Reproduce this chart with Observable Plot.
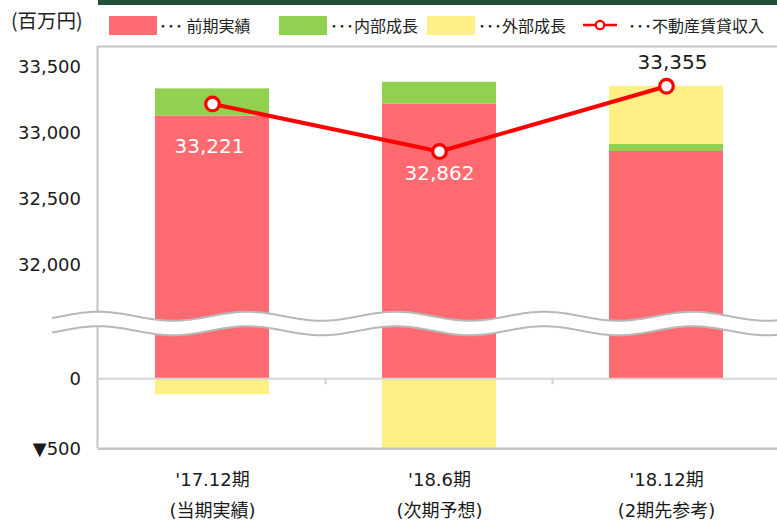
<!DOCTYPE html>
<html>
<head>
<meta charset="utf-8">
<script src="https://cdn.jsdelivr.net/npm/d3@7"></script>
<script src="https://cdn.jsdelivr.net/npm/@observablehq/plot@0.6"></script>
<style>
  body { margin: 0; background: #fff; }
  #wrap { width: 777px; position: relative; font-family: "Noto Sans CJK JP", "DejaVu Sans", sans-serif; color: #222; }
  #head { height: 40px; position: relative; }
  #topbar { position: absolute; left: 98px; top: 0; width: 679px; height: 5px; background: #22503a; }
  #unit { position: absolute; left: 11px; top: 7px; font-size: 19.5px; line-height: 26px; color: #222; }
  .sw { position: absolute; top: 16px; width: 48px; height: 19px; }
  .lt { position: absolute; top: 15px; font-size: 16px; line-height: 20px; white-space: nowrap; color: #222; }
  #lineSym { position: absolute; left: 583px; top: 19px; }
</style>
</head>
<body>
<div id="wrap">
  <div id="head">
    <div id="topbar"></div>
    <div id="unit">(百万円)</div>
    <div id="legend"></div>
  </div>
  <div id="chart"></div>
</div>
<script>
// ---- data ----
const categories = ["'17.12期", "'18.6期", "'18.12期"];
const subLabels = ["(当期実績)", "(次期予想)", "(2期先参考)"];
const seriesNames = ["前期実績", "内部成長", "外部成長"];
const prevActual = [33130, 33221, 32862];
const internalGrowth = [205, 164, 53];
const externalGrowth = [-114, -523, 440];
const lineName = "不動産賃貸収入";
const rentalIncome = [33221, 32862, 33355];
const yTicks = [33500, 33000, 32500, 32000, 0, -500];
const seriesColors = ["#ff6b70", "#92d050", "#fff086"];

// ---- legend (HTML) ----
const legend = document.getElementById("legend");
const legendItems = [
  {sw: seriesColors[0], swLeft: 109, text: "･･･ " + seriesNames[0], tLeft: 159},
  {sw: seriesColors[1], swLeft: 279, text: "･･･" + seriesNames[1], tLeft: 330},
  {sw: seriesColors[2], swLeft: 427, text: "･･･" + seriesNames[2], tLeft: 478},
  {sw: null, text: "･･･" + lineName, tLeft: 628}
];
for (const it of legendItems) {
  if (it.sw) {
    const s = document.createElement("div");
    s.className = "sw"; s.style.left = it.swLeft + "px"; s.style.background = it.sw;
    legend.appendChild(s);
  }
  const t = document.createElement("div");
  t.className = "lt"; t.style.left = it.tLeft + "px"; t.textContent = it.text;
  legend.appendChild(t);
}
legend.insertAdjacentHTML("beforeend",
  '<svg id="lineSym" width="34" height="12"><line x1="0" y1="6" x2="34" y2="6" stroke="#ff0000" stroke-width="2.5"/><circle cx="17" cy="6" r="4.2" fill="#fff" stroke="#ff0000" stroke-width="2.2"/></svg>');

// ---- tables ----
const rows = [];
categories.forEach((c, i) => {
  rows.push({cat: c, series: seriesNames[0], value: prevActual[i]});
  rows.push({cat: c, series: seriesNames[1], value: internalGrowth[i]});
  rows.push({cat: c, series: seriesNames[2], value: externalGrowth[i]});
});
const income = categories.map((c, i) => ({cat: c, value: rentalIncome[i]}));

const fmt = d3.format(",");
const W = 777, H = 480;
const left = 97.5;

const chart = Plot.plot({
  width: W, height: H,
  marginLeft: left, marginRight: 0, marginTop: 6, marginBottom: 71.7,
  style: {fontFamily: "'DejaVu Sans', 'Noto Sans CJK JP', sans-serif", fontSize: "18px", color: "#1a1a1a", background: "#fff"},
  x: {domain: categories, range: [left, 780.5], paddingInner: 0.5, paddingOuter: 0.25},
  y: {type: "linear", domain: [-500, 0, 338, 31616, 33655], range: [408.3, 338.3, 291, 276, 6]},
  color: {domain: seriesNames, range: seriesColors},
  marks: [
    Plot.barY(rows, Plot.stackY({x: "cat", y: "value", fill: "series", order: seriesNames, clip: true})),
    Plot.ruleY([0], {stroke: "#d6d6d6", strokeWidth: 2}),
    Plot.ruleY([-500], {stroke: "#c4c4c4", strokeWidth: 2.5}),
    Plot.ruleY([33655], {stroke: "#c4c4c4", strokeWidth: 2}),
    Plot.axisY({ticks: yTicks, tickSize: 0, tickPadding: 17, label: null,
      tickFormat: v => v < 0 ? "▼" + fmt(-v) : fmt(v)}),
    Plot.axisX({tickSize: 0, tickPadding: 24, label: null, tickFormat: d => d}),
    Plot.axisX({tickSize: 0, tickPadding: 55, label: null, tickFormat: d => subLabels[categories.indexOf(d)]}),
    Plot.line(income, {x: "cat", y: "value", stroke: "#ff0000", strokeWidth: 4}),
    Plot.dot(income, {x: "cat", y: "value", r: 6.8, fill: "#fff", stroke: "#ff0000", strokeWidth: 3.2}),
    Plot.text(income, {filter: (d, i) => i === 0, x: "cat", y: "value", text: d => fmt(d.value), fill: "#fff", fontSize: 20, dy: 43, dx: -3}),
    Plot.text(income, {filter: (d, i) => i === 1, x: "cat", y: "value", text: d => fmt(d.value), fill: "#fff", fontSize: 20, dy: 22}),
    Plot.text(income, {filter: (d, i) => i === 2, x: "cat", y: "value", text: d => fmt(d.value), fill: "#1a1a1a", fontSize: 20, dy: -24, dx: 6})
  ]
});
document.getElementById("chart").appendChild(chart);

// ---- decorations computed from the scales ----
const ys = chart.scale("y"), xs = chart.scale("x");
const svg = d3.select(chart);
const topY = ys.apply(33655), botY = ys.apply(-500), zeroY = ys.apply(0);
// left frame line
svg.append("line").attr("x1", left).attr("x2", left).attr("y1", topY).attr("y2", botY)
  .attr("stroke", "#c4c4c4").attr("stroke-width", 2);
// category boundary ticks under zero line
const gap = (xs.step - xs.bandwidth) / 2;
categories.slice(1).forEach(c => {
  const bx = xs.apply(c) - gap;
  svg.append("line").attr("x1", bx).attr("x2", bx).attr("y1", zeroY).attr("y2", zeroY + 6)
    .attr("stroke", "#d0d0d0").attr("stroke-width", 2);
});
// wavy axis break
const center = (ys.apply(338) + ys.apply(31616)) / 2;
const half = 7.25, amp = 4.5, period = 148.5, phase = 173;
const xsW = d3.range(52, 779, 2);
const upper = xsW.map(x => [x, center - half + amp * Math.cos(2 * Math.PI * (x - phase) / period)]);
const lower = xsW.map(x => [x, center + half + amp * Math.cos(2 * Math.PI * (x - phase) / period)]);
const ln = d3.line();
svg.append("path").attr("d", ln(upper.concat(lower.slice().reverse())) + "Z").attr("fill", "#fff");
svg.append("path").attr("d", ln(upper)).attr("fill", "none").attr("stroke", "#b8b8b8").attr("stroke-width", 2);
svg.append("path").attr("d", ln(lower)).attr("fill", "none").attr("stroke", "#b8b8b8").attr("stroke-width", 2);
</script>
</body>
</html>
